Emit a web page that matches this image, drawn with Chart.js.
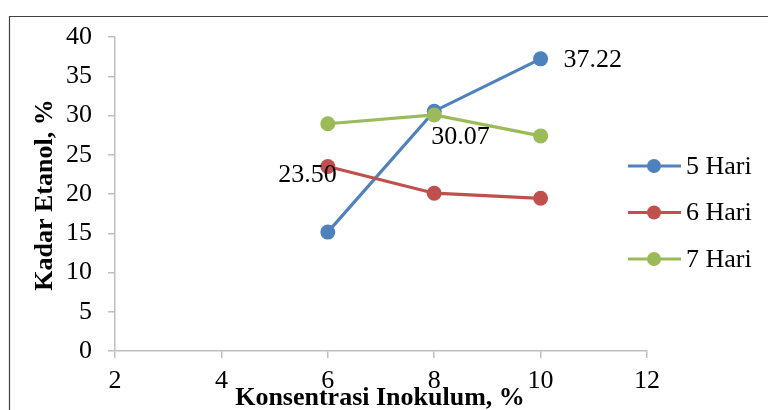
<!DOCTYPE html>
<html>
<head>
<meta charset="utf-8">
<script src="https://cdn.jsdelivr.net/npm/chart.js@4"></script>
<style>
  html, body { margin: 0; padding: 0; background: #fff; }
  #wrap { width: 768px; height: 410px; }
</style>
</head>
<body>
<div id="wrap"><canvas id="chart" width="768" height="410"></canvas></div>
<script>
// data
const konsentrasi = [6, 8, 10];
const hari5 = [15.15, 30.55, 37.22];
const hari6 = [23.5, 20.1, 19.45];
const hari7 = [28.95, 30.07, 27.4];
const seriesNames = ["5 Hari", "6 Hari", "7 Hari"];
const xTicks = [2, 4, 6, 8, 10, 12];
const yTicks = [0, 5, 10, 15, 20, 25, 30, 35, 40];
// value labels shown on the chart: [series, point]
const shownLabels = [[0, 2], [1, 0], [2, 1]];

const colors = ["#4F81BD", "#C0504D", "#9BBB59"];
const serif = "'Liberation Serif', 'Times New Roman', serif";

const toPoints = (ys) => konsentrasi.map((x, i) => ({ x: x, y: ys[i] }));

// 🔹 extra drawing: frame, axis titles, legend, value labels
const extras = {
  id: "extras",
  afterDatasetsDraw(chart) {
    const ctx = chart.ctx;
    const xs = chart.scales.x, ys = chart.scales.y;
    ctx.save();

    // outer frame (only top and left visible)
    ctx.strokeStyle = "#404040";
    ctx.lineWidth = 1.2;
    ctx.beginPath();
    ctx.moveTo(9.5, 410);
    ctx.lineTo(9.5, 16.5);
    ctx.lineTo(768, 16.5);
    ctx.stroke();

    // value labels
    ctx.fillStyle = "#000";
    ctx.font = "26px " + serif;
    ctx.textBaseline = "middle";
    const offs = [
      { dx: 23, dy: 1, align: "left" },
      { dx: 9, dy: 9, align: "right" },
      { dx: -3, dy: 22, align: "left" }
    ];
    shownLabels.forEach(([s, i], k) => {
      const d = chart.data.datasets[s].data[i];
      const px = xs.getPixelForValue(d.x), py = ys.getPixelForValue(d.y);
      const o = offs[k];
      ctx.textAlign = o.align;
      ctx.fillText(d.y.toFixed(2), px + o.dx, py + o.dy);
    });

    // legend
    ctx.textAlign = "left";
    seriesNames.forEach((name, i) => {
      const y = 166 + i * 46.5;
      ctx.strokeStyle = colors[i];
      ctx.lineWidth = 3;
      ctx.beginPath();
      ctx.moveTo(628, y);
      ctx.lineTo(681, y);
      ctx.stroke();
      ctx.fillStyle = colors[i];
      ctx.beginPath();
      ctx.arc(654, y, 7, 0, Math.PI * 2);
      ctx.fill();
      ctx.fillStyle = "#000";
      ctx.fillText(name, 686, y + 1);
    });

    // axis titles
    ctx.font = "bold 26px " + serif;
    ctx.textAlign = "center";
    ctx.textBaseline = "alphabetic";
    ctx.fillText("Konsentrasi Inokulum, %", 380, 405);
    ctx.translate(52, 195);
    ctx.rotate(-Math.PI / 2);
    ctx.fillText("Kadar Etanol, %", 0, 0);

    ctx.restore();
  }
};

const ctx = document.getElementById("chart").getContext("2d");
new Chart(ctx, {
  type: "scatter",
  data: {
    datasets: [hari5, hari6, hari7].map((vals, i) => ({
      label: seriesNames[i],
      data: toPoints(vals),
      showLine: true,
      borderColor: colors[i],
      backgroundColor: colors[i],
      borderWidth: 3.2,
      pointRadius: 7.5,
      pointHoverRadius: 7.5,
      pointBorderWidth: 0,
      order: 3 - i
    }))
  },
  options: {
    responsive: false,
    animation: false,
    events: [],
    layout: { padding: { left: 0, top: 37, right: 121, bottom: 0 } },
    plugins: { legend: { display: false }, tooltip: { enabled: false } },
    scales: {
      x: {
        type: "linear",
        min: 2,
        max: 12,
        afterBuildTicks: (s) => { s.ticks = xTicks.map((v) => ({ value: v })); },
        afterFit: (s) => { s.height = 59; },
        grid: { drawOnChartArea: false, drawTicks: true, tickLength: 7, color: "#bfbfbf", lineWidth: 1.5 },
        border: { color: "#bfbfbf", width: 1.5 },
        ticks: { color: "#000", font: { family: serif, size: 26 }, padding: 8, maxRotation: 0 }
      },
      y: {
        type: "linear",
        min: 0,
        max: 40,
        afterBuildTicks: (s) => { s.ticks = yTicks.map((v) => ({ value: v })); },
        afterFit: (s) => { s.width = 115; },
        grid: { drawOnChartArea: false, drawTicks: true, tickLength: 7, color: "#bfbfbf", lineWidth: 1.5 },
        border: { color: "#bfbfbf", width: 1.5 },
        ticks: { color: "#000", font: { family: serif, size: 26 }, padding: 16 }
      }
    }
  },
  plugins: [extras]
});
</script>
</body>
</html>
